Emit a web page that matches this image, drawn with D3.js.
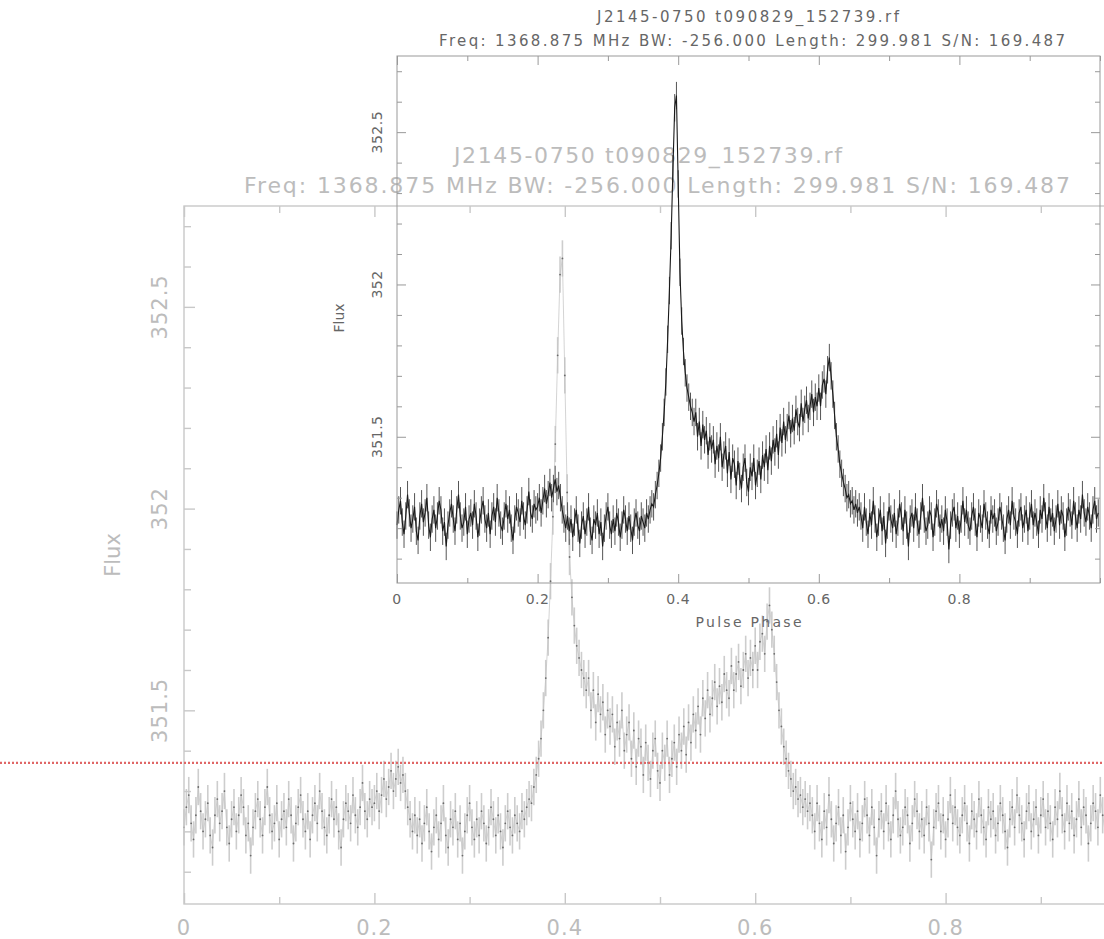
<!DOCTYPE html>
<html><head><meta charset="utf-8">
<script src="https://cdn.jsdelivr.net/npm/d3@7"></script>
<style>body{margin:0;background:#fff}svg{display:block}</style>
</head><body>
<svg id="chart" width="1104" height="939"></svg>
<script>
// ---------- data ----------
const sourceName = "J2145-0750 t090829_152739.rf";
const headerLine = "Freq: 1368.875 MHz BW: -256.000 Length: 299.981 S/N: 169.487";
const xAxisTitle = "Pulse Phase";
const yAxisTitle = "Flux";
const xMajorTicks = [0, 0.2, 0.4, 0.6, 0.8];
const xMinorTicks = [0.1, 0.3, 0.5, 0.7, 0.9, 1.0];
const yMajorTicks = [351.5, 352, 352.5];
const yMinorTicks = [351.1, 351.2, 351.3, 351.4, 351.6, 351.7, 351.8, 351.9, 352.1, 352.2, 352.3, 352.4, 352.6, 352.7];
const phaseDomain = [0, 1];
const fluxDomain = [351.02, 352.75];
const fluxError = 0.045;
const cutLevel = 351.37;
// flux per phase bin (400 bins, phase = i/400)
const fluxValues = [
351.21,351.26,351.29,351.22,351.18,351.24,351.31,351.25,351.20,351.23,
351.27,351.19,351.16,351.24,351.28,351.22,351.25,351.30,351.21,351.17,
351.23,351.26,351.20,351.24,351.29,351.26,351.19,351.22,351.14,351.21,
351.25,351.28,351.23,351.19,351.26,351.31,351.24,351.20,351.22,351.27,
351.18,351.23,351.25,351.21,351.28,351.24,351.17,351.22,351.26,351.29,
351.23,351.20,351.25,351.18,351.24,351.27,351.22,351.30,351.25,351.21,
351.19,351.24,351.28,351.23,351.26,351.20,351.16,351.23,351.27,351.25,
351.22,351.29,351.24,351.21,351.26,351.32,351.25,351.23,351.28,351.26,
351.27,351.30,351.25,351.29,351.33,351.28,351.31,351.35,351.30,351.33,
351.36,351.32,351.34,351.30,351.26,351.23,351.20,351.24,
351.19,351.23,351.17,351.22,351.26,351.20,351.15,351.21,351.24,351.18,
351.22,351.27,351.19,351.16,351.23,351.21,351.25,351.18,351.22,351.14,
351.20,351.24,351.27,351.21,351.18,351.23,351.19,351.25,351.22,351.17,
351.21,351.26,351.23,351.19,351.24,351.20,351.16,351.22,351.25,351.21,
351.19,351.24,351.22,351.20,351.25,351.23,
351.26,351.28,351.27,351.31,351.34,351.38,351.43,351.50,351.58,351.68,
351.82,351.98,352.16,352.38,352.58,352.62,
352.33,352.04,351.88,351.78,351.71,351.66,351.63,351.60,351.58,351.55,
351.58,351.50,351.55,351.47,351.54,351.49,351.52,351.44,351.50,351.46,
351.49,351.41,351.47,351.43,351.50,351.40,351.44,351.47,351.38,351.45,
351.36,351.43,351.41,351.34,351.42,351.37,351.33,351.40,351.43,351.35,
351.32,351.40,351.37,351.43,351.34,351.38,351.42,351.36,351.44,351.40,
351.46,351.39,351.47,351.42,351.49,351.45,351.51,351.44,351.53,351.48,
351.55,351.49,351.53,351.57,351.51,351.56,351.52,351.59,351.55,351.53,
351.61,351.55,351.59,351.62,351.56,351.60,351.64,351.58,351.63,351.60,
351.66,351.60,351.67,351.69,351.64,351.72,351.76,351.70,351.64,351.57,
351.50,351.46,351.41,351.38,351.35,351.33,351.30,351.31,351.28,351.29,
351.26,351.28,351.25,351.27,
351.24,351.20,351.27,351.22,351.18,351.25,351.21,351.29,351.23,351.17,
351.22,351.26,351.19,351.24,351.15,351.21,351.27,351.23,351.20,351.25,
351.18,351.22,351.28,351.24,351.19,351.26,351.21,351.14,351.23,351.25,
351.20,351.27,351.22,351.18,351.24,351.30,351.23,351.19,351.21,351.26,
351.24,351.17,351.22,351.28,351.25,351.20,351.23,351.19,351.26,351.22,
351.13,351.21,351.25,351.27,351.20,351.24,351.18,351.23,351.29,351.22,
351.26,351.21,351.19,351.24,351.27,351.22,351.17,351.25,351.23,351.20,
351.28,351.24,351.21,351.18,351.26,351.23,351.25,351.19,351.22,351.27,
351.24,351.20,351.16,351.23,351.26,351.21,351.29,351.24,351.22,351.18,
351.25,351.27,351.20,351.23,351.26,351.19,351.24,351.28,351.21,351.25,
351.22,351.18,351.26,351.23,351.30,351.24,351.20,351.27,351.22,351.25,
351.19,351.23,351.28,351.21,351.26,351.24,351.17,351.22,351.27,351.25,
351.21,351.29,351.24,351.20,351.26,351.23,351.31,351.25,351.22,351.27,
351.24,351.20,351.26,351.29,351.23,351.25
];
const profile = fluxValues.map((v, i) => ({phase: i / fluxValues.length, flux: v}));

// ---------- drawing ----------
const svg = d3.select("#chart");
const W = 1104, H = 939;
const font = "'DejaVu Sans', 'Liberation Sans', sans-serif";

function drawPanel(cfg) {
  const g = svg.append("g");
  const x = d3.scaleLinear().domain(phaseDomain).range([cfg.left, cfg.right]);
  const y = d3.scaleLinear().domain(fluxDomain).range([cfg.bottom, cfg.top]);

  // data: error bars
  g.append("g").selectAll("line").data(profile).join("line")
    .attr("x1", d => x(d.phase)).attr("x2", d => x(d.phase))
    .attr("y1", d => y(d.flux - fluxError)).attr("y2", d => y(d.flux + fluxError))
    .attr("stroke", cfg.errColor).attr("stroke-width", cfg.errWidth);
  // data: line
  g.append("path").datum(profile)
    .attr("d", d3.line().x(d => x(d.phase)).y(d => y(d.flux)))
    .attr("fill", "none").attr("stroke", cfg.lineColor).attr("stroke-width", cfg.lineWidth);
  if (cfg.dotColor) {
    g.append("g").selectAll("circle").data(profile).join("circle")
      .attr("cx", d => x(d.phase)).attr("cy", d => y(d.flux)).attr("r", cfg.dotR)
      .attr("fill", cfg.dotColor);
  }

  // frame
  g.append("rect").attr("x", cfg.left).attr("y", cfg.top)
    .attr("width", cfg.right - cfg.left).attr("height", cfg.bottom - cfg.top)
    .attr("fill", "none").attr("stroke", cfg.axisColor).attr("stroke-width", cfg.frameWidth);

  const styleAxis = sel => {
    sel.select(".domain").remove();
    sel.selectAll("line").attr("stroke", cfg.axisColor).attr("stroke-width", cfg.frameWidth);
  };
  [[d3.axisBottom, cfg.bottom], [d3.axisTop, cfg.top]].forEach(([ax, pos]) => {
    g.append("g").attr("transform", `translate(0,${pos})`)
      .call(ax(x).tickValues(xMajorTicks).tickSize(-cfg.majorTick).tickFormat(""))
      .call(styleAxis);
    g.append("g").attr("transform", `translate(0,${pos})`)
      .call(ax(x).tickValues(xMinorTicks).tickSize(-cfg.minorTick).tickFormat(""))
      .call(styleAxis);
  });
  [[d3.axisLeft, cfg.left], [d3.axisRight, cfg.right]].forEach(([ax, pos]) => {
    g.append("g").attr("transform", `translate(${pos},0)`)
      .call(ax(y).tickValues(yMajorTicks).tickSize(-cfg.majorTick).tickFormat(""))
      .call(styleAxis);
    g.append("g").attr("transform", `translate(${pos},0)`)
      .call(ax(y).tickValues(yMinorTicks).tickSize(-cfg.minorTick).tickFormat(""))
      .call(styleAxis);
  });

  // x tick labels
  g.append("g").selectAll("text").data(xMajorTicks).join("text")
    .attr("x", d => x(d)).attr("y", cfg.bottom + cfg.xLabelOffset)
    .attr("text-anchor", "middle").attr("font-family", font)
    .attr("font-size", cfg.tickFont).attr("fill", cfg.textColor)
    .attr("letter-spacing", cfg.tickSpacing)
    .text(d => d3.format("")(d));
  // y tick labels (rotated)
  g.append("g").selectAll("text").data(yMajorTicks).join("text")
    .attr("transform", d => `translate(${cfg.left - cfg.yLabelOffset},${y(d)}) rotate(-90)`)
    .attr("text-anchor", "middle").attr("font-family", font)
    .attr("font-size", cfg.tickFont).attr("fill", cfg.textColor)
    .attr("letter-spacing", cfg.tickSpacing)
    .text(d => d);
  // axis titles
  g.append("text")
    .attr("transform", `translate(${cfg.left - cfg.yTitleOffset},${cfg.yTitleY}) rotate(-90)`)
    .attr("text-anchor", "middle").attr("font-family", font)
    .attr("font-size", cfg.tickFont).attr("fill", cfg.textColor).text(yAxisTitle);
  if (cfg.showXTitle) {
    g.append("text")
      .attr("x", (cfg.left + cfg.right) / 2).attr("y", cfg.bottom + cfg.xTitleOffset)
      .attr("text-anchor", "middle").attr("font-family", font)
      .attr("font-size", cfg.tickFont).attr("fill", cfg.textColor)
      .attr("textLength", cfg.xTitleLen).attr("lengthAdjust", "spacing").text(xAxisTitle);
  }
  // titles
  g.append("text").attr("x", cfg.title1X).attr("y", cfg.title1Y)
    .attr("text-anchor", "middle").attr("font-family", font)
    .attr("font-size", cfg.titleFont).attr("fill", cfg.textColor)
    .attr("textLength", cfg.title1Len).attr("lengthAdjust", "spacing")
    .text(sourceName);
  g.append("text").attr("x", cfg.title2X).attr("y", cfg.title2Y)
    .attr("text-anchor", "middle").attr("font-family", font)
    .attr("font-size", cfg.titleFont).attr("fill", cfg.textColor)
    .attr("textLength", cfg.title2Len).attr("lengthAdjust", "spacing")
    .text(headerLine);
  return {x, y};
}

// background (large, faded) panel
const bg = drawPanel({
  left: 184, right: 1136, top: 206, bottom: 904,
  errColor: "#cdcdcd", errWidth: 1.6, lineColor: "#c2c2c2", lineWidth: 0.7,
  dotColor: "#6a6a6a", dotR: 0.9,
  axisColor: "#c8c8c8", frameWidth: 1.4, textColor: "#bcbcbc",
  majorTick: 11, minorTick: 7,
  tickFont: 21, tickSpacing: 1, xLabelOffset: 31, yLabelOffset: 17, yTitleOffset: 64, yTitleY: 555,
  showXTitle: false,
  titleFont: 22,
  title1X: 648, title1Y: 163, title1Len: 388,
  title2X: 657, title2Y: 193, title2Len: 826
});

// foreground (inset) panel
drawPanel({
  left: 397, right: 1100, top: 56, bottom: 583,
  errColor: "#555555", errWidth: 1, lineColor: "#1a1a1a", lineWidth: 1.1,
  dotColor: null,
  axisColor: "#999999", frameWidth: 1, textColor: "#666666",
  majorTick: 9, minorTick: 5,
  tickFont: 14, tickSpacing: 0.5, xLabelOffset: 21, yLabelOffset: 15, yTitleOffset: 53, yTitleY: 318,
  showXTitle: true, xTitleOffset: 44, xTitleLen: 106,
  titleFont: 15,
  title1X: 748, title1Y: 22, title1Len: 302,
  title2X: 752, title2Y: 46, title2Len: 626
});

// red dotted reference line
svg.append("line")
  .attr("x1", 0).attr("x2", W)
  .attr("y1", bg.y(cutLevel)).attr("y2", bg.y(cutLevel))
  .attr("stroke", "#e06666").attr("stroke-width", 2.2)
  .attr("stroke-dasharray", "2,2");
</script>
</body></html>
